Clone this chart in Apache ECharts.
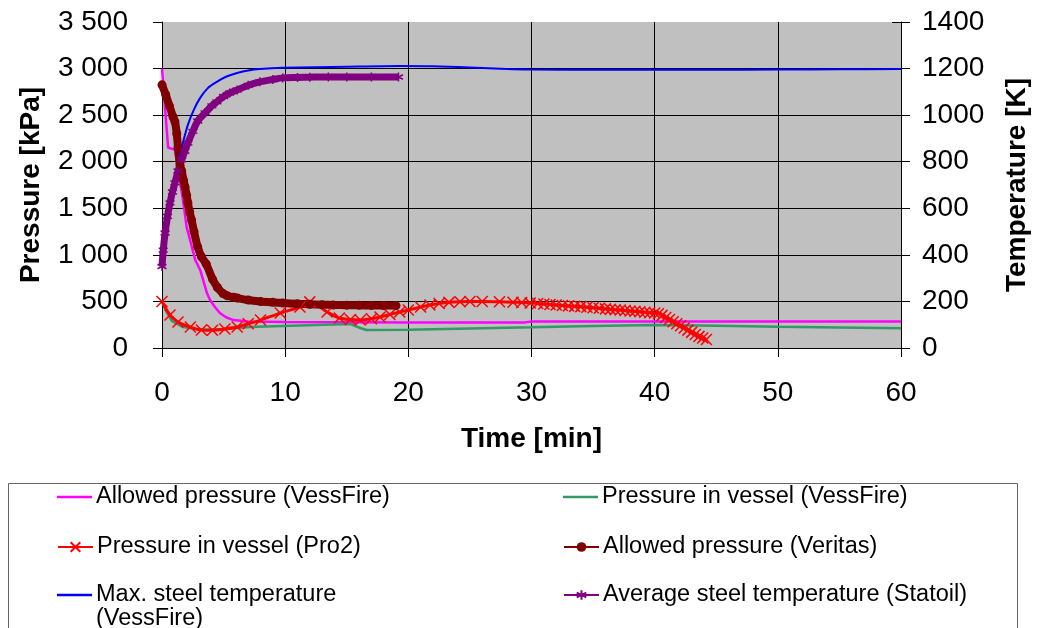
<!DOCTYPE html>
<html>
<head>
<meta charset="utf-8">
<script src="https://cdn.jsdelivr.net/npm/echarts@6/dist/echarts.min.js"></script>
<style>html,body{margin:0;padding:0;background:#fff}#c{width:1040px;height:628px}</style>
</head>
<body>
<div id="c"></div>
<script>
// ---- Data (time in min, pressure in kPa, temperature in K) ----
const allowedVessT = [0, 0.5, 1.05, 1.7, 2.0, 2.7, 3.1, 3.65, 3.9, 4.3, 4.7, 5.2, 5.8, 7, 10, 20, 29.5, 30, 40, 50, 60];
const allowedVessP = [3000, 2150, 2130, 1590, 1300, 945, 838, 590, 515, 440, 375, 330, 300, 285, 280, 275, 275, 285, 285, 285, 285];

const vesselVessT = [0, 0.4, 0.8, 1.7, 3.1, 5, 7.1, 9.8, 15.3, 16.1, 16.6, 20, 25, 30, 35, 40, 45, 50, 55, 60];
const vesselVessP = [500, 380, 290, 225, 195, 205, 225, 236, 258, 215, 193, 195, 210, 222, 235, 247, 240, 229, 220, 211];

const pro2T = [0, 0.65, 1.3, 2.3, 3.2, 4.1, 5.1, 6.1, 7.0, 8.0, 9.6, 11.2, 12.0, 13.4, 14.4, 15.3, 16.1, 17.0, 17.7, 18.5, 19.3, 20.0, 21.0, 21.75, 22.5, 23.3, 24.2, 25, 26, 27.4, 28.5, 29.2, 29.9, 30.5, 31, 31.5, 32, 32.5, 33, 33.5, 34, 34.5, 35, 35.5, 36, 36.4, 36.8, 37.2, 37.6, 38, 38.4, 38.8, 39.2, 39.6, 40, 40.3, 40.6, 40.9, 41.2, 41.5, 41.8, 42.1, 42.4, 42.7, 43, 43.3, 43.6, 43.9, 44.2];
const pro2P = [500, 354, 280, 225, 193, 190, 204, 225, 260, 300, 375, 440, 495, 387, 322, 305, 300, 315, 333, 360, 387, 408, 440, 462, 478, 490, 497, 500, 500, 497, 492, 488, 483, 478, 472, 467, 462, 457, 452, 447, 444, 438, 432, 426, 420, 415, 411, 407, 402, 398, 394, 389, 384, 379, 375, 367, 350, 328, 305, 282, 260, 238, 215, 192, 168, 145, 125, 108, 92];

const veritasT = [0, 0.3, 0.6, 0.9, 1.05, 1.2, 1.3, 1.46, 1.6, 1.75, 1.87, 2.0, 2.1, 2.25, 2.4, 2.6, 2.9, 3.2, 3.6, 4.1, 4.5, 4.95, 5.3, 5.8, 6.1, 7, 8, 9, 9.8, 11, 12, 13, 13.9, 15, 16, 17, 18, 19];
const veritasP = [2825, 2720, 2600, 2480, 2430, 2300, 2150, 1965, 1900, 1800, 1730, 1640, 1560, 1460, 1375, 1250, 1085, 980, 900, 740, 650, 585, 560, 545, 537, 515, 500, 490, 483, 475, 470, 465, 462, 460, 458, 457, 456, 455];

const maxSteelT = [0, 0.5, 1, 1.6, 2.1, 2.6, 3.1, 3.7, 4.45, 5.2, 6.1, 7, 7.95, 9.8, 15, 19.3, 22, 25, 28, 30, 35, 40, 45, 50, 55, 60];
const maxSteelK = [350, 560, 720, 860, 958, 1025, 1074, 1115, 1143, 1165, 1181, 1192, 1198, 1203, 1208, 1211, 1210, 1205, 1198, 1196, 1195, 1195, 1195, 1196, 1197, 1198];

const avgSteelT = [0, 0.1, 0.25, 0.45, 0.65, 0.85, 1.05, 1.3, 1.6, 1.85, 2.1, 2.5, 2.9, 3.5, 4.05, 4.45, 5, 5.5, 6.1, 7, 7.95, 9, 9.8, 11, 12, 13.5, 15, 17, 19.2];
const avgSteelK = [350, 420, 494, 565, 623, 670, 709, 760, 808, 845, 880, 930, 975, 1010, 1040, 1057, 1080, 1095, 1108, 1128, 1143, 1153, 1160, 1162, 1163, 1164, 1164, 1164, 1164];

const xTicks = {min: 0, max: 60, interval: 10};
const pressureTicks = {min: 0, max: 3500, interval: 500};
const tempTicks = {min: 0, max: 1400, interval: 200};

const names = [
  'Allowed pressure (VessFire)',
  'Pressure in vessel (VessFire)',
  'Pressure in vessel (Pro2)',
  'Allowed pressure (Veritas)',
  'Max. steel temperature (VessFire)',
  'Average steel temperature (Statoil)'
];

function zip(a, b) { return a.map((v, i) => [v, b[i]]); }

const FONT = "'Liberation Sans', Arial, sans-serif";
const xMark = 'path://M0,0L10,10M10,0L0,10';
const starMark = 'path://M5,0L5,10M0,2.5L10,7.5M0,7.5L10,2.5';

const chart = echarts.init(document.getElementById('c'), null, {renderer: 'canvas'});

function legendItem(name, left, centerY, extra) {
  return Object.assign({
    data: [name],
    left: left,
    top: centerY - 11,
    orient: 'horizontal',
    padding: 0,
    itemWidth: 35,
    itemHeight: 12,
    itemGap: 0,
    selectedMode: false,
    textStyle: {fontFamily: FONT, fontSize: 23.5, color: '#000', lineHeight: 26, padding: [0, 0, 0, -1]},
    lineStyle: {width: 2}
  }, extra || {});
}
const plainLine = {icon: 'rect', itemHeight: 2.5};

const option = {
  backgroundColor: '#fff',
  animation: false,
  grid: {left: 162, right: 139, top: 22, bottom: 280, show: true, backgroundColor: '#C0C0C0', borderWidth: 0, containLabel: false},
  graphic: [{
    type: 'rect', left: 6, top: 481, z: -1,
    shape: {width: 1009, height: 170},
    style: {fill: 'none', stroke: '#666', lineWidth: 1}
  }],
  legend: [
    legendItem(names[0], 57, 495, plainLine),
    legendItem(names[1], 563, 495, plainLine),
    legendItem(names[2], 57, 545),
    legendItem(names[3], 563, 545),
    legendItem(names[4], 57, 593, Object.assign({
      top: 593 - 34,
      formatter: () => '\nMax. steel temperature\n(VessFire)',
      textStyle: {fontFamily: FONT, fontSize: 23.5, color: '#000', lineHeight: 24, padding: [0, 0, 0, -1]}
    }, plainLine)),
    legendItem(names[5], 563, 593)
  ],
  xAxis: {
    type: 'value', min: xTicks.min, max: xTicks.max, interval: xTicks.interval,
    name: 'Time [min]', nameLocation: 'middle', nameGap: 77,
    nameTextStyle: {fontFamily: FONT, fontSize: 28, fontWeight: 'bold', color: '#000'},
    axisLine: {show: true, onZero: false, lineStyle: {color: '#000', width: 1}},
    axisTick: {show: true, length: 9, lineStyle: {color: '#000'}},
    axisLabel: {fontFamily: FONT, fontSize: 28, color: '#000', margin: 31},
    splitLine: {show: true, lineStyle: {color: '#000', width: 1}}
  },
  yAxis: [{
    type: 'value', position: 'left', min: pressureTicks.min, max: pressureTicks.max, interval: pressureTicks.interval,
    name: 'Pressure [kPa]', nameLocation: 'middle', nameGap: 117, nameRotate: 90,
    nameTextStyle: {fontFamily: FONT, fontSize: 28, fontWeight: 'bold', color: '#000'},
    axisLine: {show: true, lineStyle: {color: '#000', width: 1}},
    axisTick: {show: true, length: 9, lineStyle: {color: '#000'}},
    axisLabel: {fontFamily: FONT, fontSize: 28, color: '#000', margin: 34,
      formatter: v => String(v).replace(/\B(?=(\d{3})+(?!\d))/g, ' ')},
    splitLine: {show: true, showMaxLine: false, lineStyle: {color: '#000', width: 1}}
  }, {
    type: 'value', position: 'right', min: tempTicks.min, max: tempTicks.max, interval: tempTicks.interval,
    name: 'Temperature [K]', nameLocation: 'middle', nameGap: 102, nameRotate: 90,
    nameTextStyle: {fontFamily: FONT, fontSize: 28, fontWeight: 'bold', color: '#000'},
    axisLine: {show: true, lineStyle: {color: '#000', width: 1}},
    axisTick: {show: true, length: 9, lineStyle: {color: '#000'}},
    axisLabel: {fontFamily: FONT, fontSize: 28, color: '#000', margin: 21, formatter: v => String(v)},
    splitLine: {show: false}
  }, {
    type: 'value', position: 'right', min: tempTicks.min, max: tempTicks.max, interval: tempTicks.interval,
    axisLine: {show: false},
    axisTick: {show: true, inside: true, length: 9, lineStyle: {color: '#000'}},
    axisLabel: {show: false},
    splitLine: {show: false}
  }],
  series: [{
    name: names[0], type: 'line', yAxisIndex: 0, data: zip(allowedVessT, allowedVessP),
    showSymbol: false, symbol: 'none', lineStyle: {color: '#FF00FF', width: 2.5}, itemStyle: {color: '#FF00FF'}
  }, {
    name: names[1], type: 'line', yAxisIndex: 0, data: zip(vesselVessT, vesselVessP),
    showSymbol: false, symbol: 'none', lineStyle: {color: '#339966', width: 2.5}, itemStyle: {color: '#339966'}
  }, {
    name: names[2], type: 'line', yAxisIndex: 0, data: zip(pro2T, pro2P), smooth: 0.3,
    symbol: xMark, symbolSize: 11, showAllSymbol: true,
    lineStyle: {color: '#FF0000', width: 3},
    itemStyle: {color: '#FF0000', borderColor: '#FF0000', borderWidth: 1.5}
  }, {
    name: names[3], type: 'line', yAxisIndex: 0, data: zip(veritasT, veritasP), smooth: 0.3,
    symbol: 'circle', symbolSize: 9, showAllSymbol: true,
    lineStyle: {color: '#800000', width: 8},
    itemStyle: {color: '#800000', borderWidth: 0}
  }, {
    name: names[4], type: 'line', yAxisIndex: 1, data: zip(maxSteelT, maxSteelK), smooth: 0.3,
    showSymbol: false, symbol: 'none', lineStyle: {color: '#0000FF', width: 2}, itemStyle: {color: '#0000FF'}
  }, {
    name: names[5], type: 'line', yAxisIndex: 1, data: zip(avgSteelT, avgSteelK), smooth: 0.3,
    symbol: starMark, symbolSize: 9, showAllSymbol: true,
    lineStyle: {color: '#800080', width: 7},
    itemStyle: {color: '#800080', borderColor: '#800080', borderWidth: 1.5}
  }]
};
chart.setOption(option);
</script>
</body>
</html>
